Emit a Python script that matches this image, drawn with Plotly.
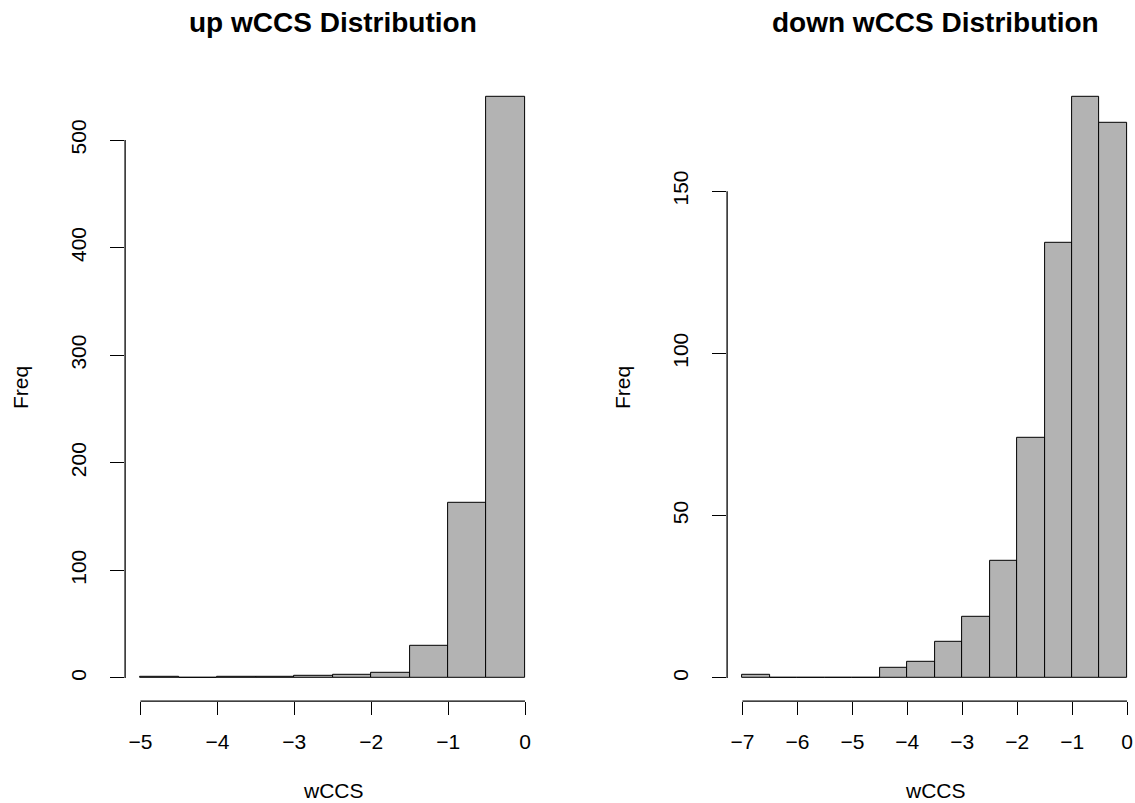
import plotly.graph_objects as go

# Histogram bins (0.5 wide) and counts for each panel
up_edges = [-5.0, -4.5, -4.0, -3.5, -3.0, -2.5, -2.0, -1.5, -1.0, -0.5, 0.0]
up_counts = [1, 0, 1, 1, 2, 3, 5, 30, 163, 540]

down_edges = [-7.0, -6.5, -6.0, -5.5, -5.0, -4.5, -4.0, -3.5, -3.0, -2.5, -2.0, -1.5, -1.0, -0.5, 0.0]
down_counts = [1, 0, 0, 0, 0, 3, 5, 11, 19, 36, 74, 134, 179, 171]

up_xticks = [-5, -4, -3, -2, -1, 0]
up_yticks = [0, 100, 200, 300, 400, 500]
down_xticks = [-7, -6, -5, -4, -3, -2, -1, 0]
down_yticks = [0, 50, 100, 150]

W, H = 1135, 803
FONT = "Liberation Sans, Arial, Helvetica, sans-serif"
BAR_FILL = "#B3B3B3"


def centers(edges):
    return [(a + b) / 2 for a, b in zip(edges[:-1], edges[1:])]


def widths(edges):
    return [b - a for a, b in zip(edges[:-1], edges[1:])]


fig = go.Figure()

fig.add_trace(go.Bar(
    x=centers(up_edges), y=up_counts, width=widths(up_edges),
    marker=dict(color=BAR_FILL, line=dict(color="black", width=1)),
    xaxis="x", yaxis="y", showlegend=False, hoverinfo="x+y",
))
fig.add_trace(go.Bar(
    x=centers(down_edges), y=down_counts, width=widths(down_edges),
    marker=dict(color=BAR_FILL, line=dict(color="black", width=1)),
    xaxis="x2", yaxis="y2", showlegend=False, hoverinfo="x+y",
))

# plot regions in pixels
y_bot, y_top = 701.2, 73.8
yd = [1 - y_bot / H, 1 - y_top / H]
x1d = [125.1 / W, 540.4 / W]
x2d = [727.1 / W, 1.0]

tickfont = dict(family=FONT, size=21, color="black")
common_x = dict(showgrid=False, zeroline=False, showline=False, ticks="outside",
                ticklen=13, tickwidth=1.3, tickcolor="black", tickfont=tickfont,
                ticklabelstandoff=9, fixedrange=True)
common_y = dict(showgrid=False, zeroline=False, showline=False, ticks="outside",
                ticklen=14, tickwidth=1.3, tickcolor="black", tickfont=tickfont,
                tickangle=-90, ticklabelstandoff=16, fixedrange=True)

fig.update_layout(
    width=W, height=H,
    margin=dict(l=0, r=0, t=0, b=0),
    paper_bgcolor="white", plot_bgcolor="white",
    bargap=0,
    font=dict(family=FONT, color="black"),
    xaxis=dict(domain=x1d, range=[-5.2, 0.2], anchor="y",
               tickmode="array", tickvals=up_xticks,
               ticktext=[str(v).replace("-", "\u2212") for v in up_xticks], **common_x),
    yaxis=dict(domain=yd, range=[-21.6, 561.6], anchor="x",
               tickmode="array", tickvals=up_yticks,
               ticktext=[str(v) for v in up_yticks], **common_y),
    xaxis2=dict(domain=x2d, range=[-7.28, 0.145], anchor="y2",
                tickmode="array", tickvals=down_xticks,
                ticktext=[str(v).replace("-", "\u2212") for v in down_xticks], **common_x),
    yaxis2=dict(domain=yd, range=[-7.16, 186.16], anchor="x2",
                tickmode="array", tickvals=down_yticks,
                ticktext=[str(v) for v in down_yticks], **common_y),
)

# axis lines spanning only from the first to the last tick
line = dict(color="black", width=1.3)
shapes = [
    dict(type="line", xref="x", yref="paper", x0=up_xticks[0], x1=up_xticks[-1],
         y0=yd[0], y1=yd[0], line=line),
    dict(type="line", xref="paper", yref="y", x0=x1d[0], x1=x1d[0],
         y0=up_yticks[0], y1=up_yticks[-1], line=line),
    dict(type="line", xref="x2", yref="paper", x0=down_xticks[0], x1=down_xticks[-1],
         y0=yd[0], y1=yd[0], line=line),
    dict(type="line", xref="paper", yref="y2", x0=x2d[0], x1=x2d[0],
         y0=down_yticks[0], y1=down_yticks[-1], line=line),
]
fig.update_layout(shapes=shapes)

title_font = dict(family=FONT, size=28, color="black")
label_font = dict(family=FONT, size=21, color="black")


def px(x, y):
    return x / W, 1 - y / H


annotations = []
for text, (cx, cy), font, angle in [
    ("<b>up wCCS Distribution</b>", px(333, 22), title_font, 0),
    ("<b>down wCCS Distribution</b>", px(935, 22), title_font, 0),
    ("wCCS", px(333, 790), label_font, 0),
    ("wCCS", px(935, 790), label_font, 0),
    ("Freq", px(21, 388), label_font, -90),
    ("Freq", px(623, 388), label_font, -90),
]:
    annotations.append(dict(text=text, x=cx, y=cy, xref="paper", yref="paper",
                            xanchor="center", yanchor="middle", showarrow=False,
                            font=font, textangle=angle, borderpad=0))
fig.update_layout(annotations=annotations)

fig.write_html("out.html")
